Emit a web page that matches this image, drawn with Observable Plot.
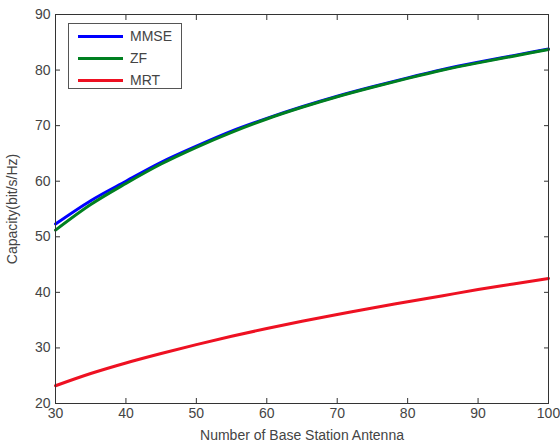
<!DOCTYPE html>
<html>
<head>
<meta charset="utf-8">
<script src="https://cdn.jsdelivr.net/npm/d3@7"></script>
<script src="https://cdn.jsdelivr.net/npm/@observablehq/plot@0.6"></script>
<style>
  html, body { margin: 0; padding: 0; background: #fff; }
  #wrap { position: relative; width: 560px; height: 444px; }
  #legend { position: absolute; left: 68px; top: 23px; width: 114px; height: 66px;
    border: 1px solid #555; background: #fff; font-family: "Liberation Sans", Arial, sans-serif;
    font-size: 14px; color: #444; box-sizing: border-box; }
  .row { position: absolute; left: 9px; height: 16px; display: flex; align-items: center; }
  .row span.sw { display: inline-block; width: 45px; height: 3px; margin-right: 7px; }
</style>
</head>
<body>
<div id="wrap"></div>
<script>
const antennas = [30, 35, 40, 45, 50, 55, 60, 65, 70, 75, 80, 85, 90, 95, 100];
const mmse = [52.3, 56.5, 60.0, 63.4, 66.3, 69.0, 71.3, 73.4, 75.3, 77.0, 78.6, 80.1, 81.4, 82.6, 83.8];
const zf   = [51.2, 55.8, 59.6, 63.1, 66.1, 68.8, 71.2, 73.3, 75.2, 76.9, 78.5, 80.0, 81.3, 82.5, 83.7];
const mrt  = [23.2, 25.4, 27.3, 29.0, 30.6, 32.1, 33.5, 34.8, 36.0, 37.2, 38.3, 39.4, 40.5, 41.5, 42.5];
const seriesNames = ["MMSE", "ZF", "MRT"];
const seriesColors = ["#0000ff", "#008020", "#ee1122"];
const xTicks = [30, 40, 50, 60, 70, 80, 90, 100];
const yTicks = [20, 30, 40, 50, 60, 70, 80, 90];

const seriesValues = [mmse, zf, mrt];
const rows = [];
seriesNames.forEach((name, i) => {
  antennas.forEach((m, j) => rows.push({series: name, m, c: seriesValues[i][j]}));
});

const font = "Liberation Sans, Arial, sans-serif";
const chart = Plot.plot({
  width: 560,
  height: 444,
  marginLeft: 55,
  marginTop: 14,
  marginRight: 12,
  marginBottom: 41,
  style: {fontFamily: font, fontSize: "14px", color: "#444", background: "#fff"},
  x: {domain: [30, 100]},
  y: {domain: [20, 90]},
  color: {domain: seriesNames, range: seriesColors},
  marks: [
    Plot.axisX({ticks: xTicks, tickSize: 0, tickPadding: 5, label: "Number of Base Station Antenna", labelAnchor: "center", labelOffset: 36, labelArrow: "none", fontSize: 14}),
    Plot.axisY({ticks: yTicks, tickSize: 0, tickPadding: 5, label: "Capacity(bit/s/Hz)", labelAnchor: "center", labelOffset: 48, labelArrow: "none", fontSize: 14}),
    Plot.axisX({ticks: xTicks, tickSize: -5, tickFormat: () => "", label: null, stroke: "#333"}),
    Plot.axisX({anchor: "top", ticks: xTicks, tickSize: -5, tickFormat: () => "", label: null, stroke: "#333"}),
    Plot.axisY({ticks: yTicks, tickSize: -5, tickFormat: () => "", label: null, stroke: "#333"}),
    Plot.axisY({anchor: "right", ticks: yTicks, tickSize: -5, tickFormat: () => "", label: null, stroke: "#333"}),
    Plot.line(rows, {x: "m", y: "c", z: "series", stroke: "series", strokeWidth: 3, curve: "monotone-x"}),
    Plot.frame({stroke: "#333"})
  ]
});
document.getElementById("wrap").appendChild(chart);

const legend = document.createElement("div");
legend.id = "legend";
seriesNames.forEach((name, i) => {
  const r = document.createElement("div");
  r.className = "row";
  r.style.top = (4 + i * 22) + "px";
  r.innerHTML = `<span class="sw" style="background:${seriesColors[i]}"></span><span>${name}</span>`;
  legend.appendChild(r);
});
document.getElementById("wrap").appendChild(legend);
</script>
</body>
</html>
